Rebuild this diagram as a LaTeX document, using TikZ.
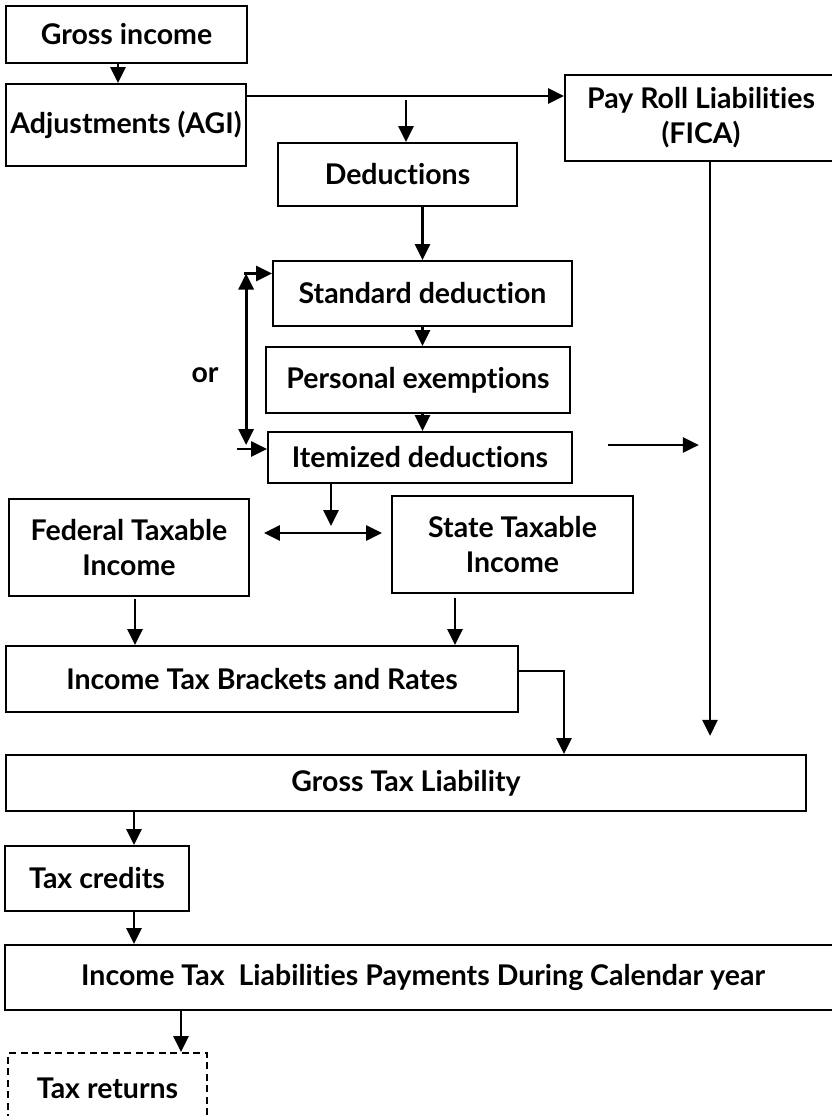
\documentclass[tikz,border=0pt]{standalone}
\usepackage{fontspec}
\setmainfont{Lato}[Ligatures=NoCommon]
\usepackage{tikz}
\usetikzlibrary{arrows.meta}
\usetikzlibrary{calc}

\tikzset{
  box/.style={rectangle,draw,line width=1.8pt,inner sep=0pt,align=center,font=\bfseries\fontsize{28.5}{35}\selectfont},
  dashbox/.style={box,dash pattern=on 7pt off 4.5pt},
  line/.style={line width=2.8pt},
}

\begin{document}
\begin{tikzpicture}[x=1pt,y=-1pt,>={Triangle[length=16pt,width=15pt]}]
\useasboundingbox (0,0) rectangle (832,1116);
\clip (0,0) rectangle (832,1116);
\node [box,minimum width=241pt,minimum height=57pt] (gross) at (126.5,34.5) {Gross income};
\node [box,minimum width=240pt,minimum height=82pt] (adj) at (126,125) {Adjustments (AGI)};
\node [box,minimum width=272pt,minimum height=86pt] (fica) at (701,118) {Pay Roll Liabilities\\(FICA)};
\node [box,minimum width=239pt,minimum height=63pt] (ded) at (397.5,174.5) {Deductions};
\node [box,minimum width=299pt,minimum height=65pt] (std) at (422.5,293.5) {Standard deduction};
\node [box,minimum width=304pt,minimum height=66pt] (pers) at (418,380) {Personal exemptions};
\node [box,minimum width=304pt,minimum height=51pt] (item) at (420,457.5) {Itemized deductions};
\node [font=\bfseries\fontsize{28.5}{35}\selectfont] (or) at (205,375) {or};
\node [box,minimum width=240pt,minimum height=97pt] (fed) at (129,547.5) {Federal Taxable\\Income};
\node [box,minimum width=241pt,minimum height=97pt] (state) at (512.5,544.5) {State Taxable\\Income};
\node [box,minimum width=512pt,minimum height=66pt] (brk) at (262,679) {Income Tax Brackets and Rates};
\node [box,minimum width=800pt,minimum height=56pt] (gtl) at (406,783) {Gross Tax Liability};
\node [box,minimum width=184pt,minimum height=65pt] (cred) at (97,878.5) {Tax credits};
\node [box,minimum width=836pt,minimum height=65pt] (itl) at (423,977.5) {Income Tax~ Liabilities Payments During Calendar year};
\node [dashbox,minimum width=199pt,minimum height=70pt] (ret) at (107.5,1088) {Tax returns};
\coordinate (grossx) at ($(gross.south)+(-8.5,0)$);
\draw[line,->] (grossx) -- (grossx |- adj.north);
\coordinate (agiout) at ($(adj.east)+(0,-29)$);
\draw[line,->] (agiout) -- (agiout -| fica.west);
\coordinate (dedin) at (406,100);
\draw[line,->] (dedin) -- (dedin |- ded.north);
\draw[line,->] (ded.south -| std.north) -- (std.north);
\draw[line,->] (std.south) -- (std.south |- pers.north);
\draw[line,->] (pers.south -| std.south) -- (item.north -| std.south);
\coordinate (stdin) at ($(std.west)+(0,-20)$);
\coordinate (itemin) at ($(item.west)+(0,-8.5)$);
\draw[line,->] ($(stdin)+(-28,0)$) -- (stdin);
\draw[line,->] ($(itemin)+(-30,0)$) -- (itemin);
\draw[line,<->] ($(stdin)+(-26,0)$) -- ($(itemin)+(-21,-4)$);
\coordinate (split) at (331,533);
\draw[line,->] (item.south -| split) -- ($(split)+(0,-7)$);
\coordinate (fedarr) at ($(fed.east)+(14,-14.5)$);
\coordinate (statearr) at ($(state.west)+(-9,-11.5)$);
\draw[line,<->] (fedarr) -- (statearr);
\coordinate (ficaend) at ($(fica.south)+(9,574)$);
\draw[line,->] ($(fica.south)+(9,0)$) -- (ficaend);
\draw[line,->] ($(item.east)+(35,-12.5)$) -- ($(item.east)+(126,-12.5)$);
\coordinate (fedout) at ($(fed.south)+(6,2)$);
\draw[line,->] (fedout) -- (fedout |- brk.north);
\coordinate (stout) at ($(state.south)+(-57.5,4)$);
\draw[line,->] (stout) -- (stout |- brk.north);
\coordinate (brkout) at ($(brk.east)+(0,-8)$);
\draw[line,->] (brkout) -| ($(gtl.north)+(158,0)$);
\coordinate (credx) at ($(cred.north)+(37,0)$);
\draw[line,->] (gtl.south -| credx) -- (credx);
\draw[line,->] (cred.south -| credx) -- (itl.north -| credx);
\coordinate (retx) at ($(ret.north)+(73.5,0)$);
\draw[line,->] (itl.south -| retx) -- (retx);
\end{tikzpicture}
\end{document}
